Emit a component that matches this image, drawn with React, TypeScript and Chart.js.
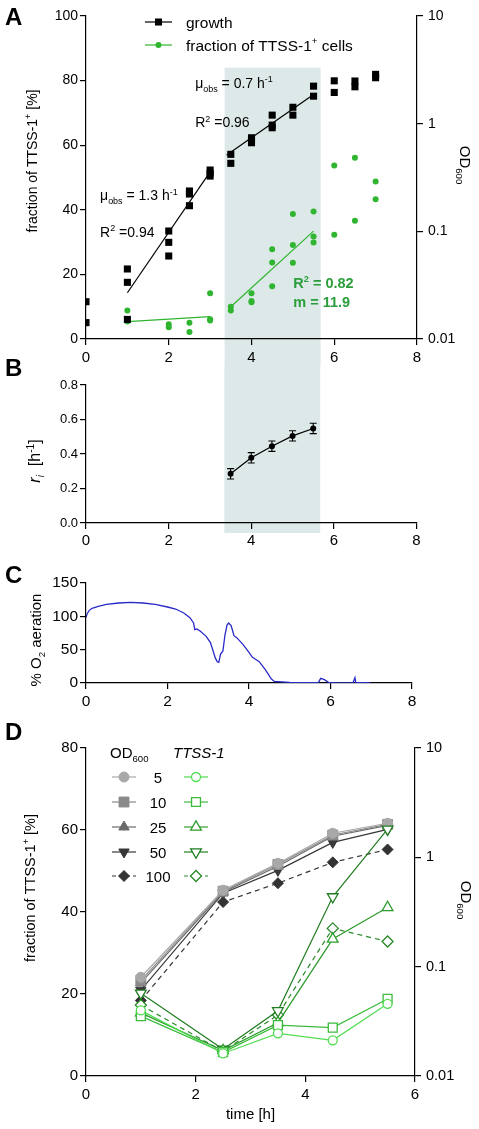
import React, { useEffect, useRef } from 'react';
import { Chart, registerables } from 'chart.js';
import { drawPoint } from 'chart.js/helpers';

Chart.register(...registerables);

const FONT = "'Liberation Sans', Arial, Helvetica, sans-serif";
Chart.defaults.font.family = FONT;
Chart.defaults.color = '#000';

// ---------------- Panel A data ----------------
const growthTimes = [0, 0, 1, 1, 1, 2, 2, 2, 2.5, 2.5, 2.5, 3, 3, 3, 3.5, 3.5, 4, 4, 4, 4.5, 4.5, 4.5, 5, 5, 5.5, 5.5, 6, 6, 6.5, 6.5, 7, 7];
const growthOD = [0.0222, 0.0142, 0.0447, 0.0336, 0.0152, 0.1007, 0.079, 0.059, 0.237, 0.222, 0.173, 0.371, 0.348, 0.326, 0.519, 0.428, 0.74, 0.7, 0.665, 1.2, 0.97, 0.916, 1.42, 1.2, 2.23, 1.8, 2.5, 1.95, 2.49, 2.2, 2.87, 2.67];
const fracTimes = [0, 1, 1, 2, 2, 2.5, 2.5, 3, 3, 3, 3.5, 3.5, 4, 4, 4, 4.5, 4.5, 4.5, 5, 5, 5, 5.5, 5.5, 5.5, 6, 6, 6.5, 6.5, 7, 7];
const fracPct = [4.8, 8.8, 5.4, 4.6, 3.6, 5.0, 2.2, 14.2, 6.1, 5.7, 10.0, 8.8, 14.2, 11.8, 11.4, 27.8, 23.7, 16.3, 38.7, 29.1, 23.6, 39.5, 31.7, 29.9, 53.7, 32.3, 56.1, 36.6, 48.8, 43.3];
const growthFitEarlyT = [1, 3];
const growthFitEarlyOD = [0.0269, 0.357];
const growthFitLateT = [3.4, 5.5];
const growthFitLateOD = [0.511, 1.87];
const fracFitEarlyT = [1, 3];
const fracFitEarlyPct = [5.4, 6.9];
const fracFitLateT = [3.5, 5.5];
const fracFitLatePct = [10.0, 33.4];
const timeTicksA = [0, 2, 4, 6, 8];
const pctTicksA = [0, 20, 40, 60, 80, 100];
const odTicks = [0.01, 0.1, 1, 10];
const shadeRange = [3.35, 5.67];
const shadeTopPct = 84;

// ---------------- Panel B data ----------------
const bTimes = [3.5, 4, 4.5, 5, 5.5];
const bRate = [0.285, 0.378, 0.445, 0.505, 0.548];
const bErr = [0.03, 0.03, 0.03, 0.03, 0.03];

// ---------------- Panel C data ----------------
const o2Times = [0, 0.03, 0.08, 0.15, 0.3, 0.5, 0.8, 1.1, 1.4, 1.7, 2.0, 2.2, 2.4, 2.55, 2.64, 2.67, 2.72, 2.8, 2.95, 3.05, 3.12, 3.17, 3.22, 3.26, 3.3, 3.36, 3.41, 3.46, 3.5, 3.56, 3.6, 3.63, 3.7, 3.85, 4.0, 4.08, 4.15, 4.25, 4.4, 4.55, 4.63, 4.7, 5.0, 5.4, 5.7, 5.76, 5.85, 5.95, 6.1, 6.55, 6.6, 6.62, 6.98];
const o2Pct = [98, 104, 109, 112, 115, 118, 120, 121, 120, 118, 114, 111, 105, 98, 90, 80, 81, 78, 70, 61, 48, 38, 32, 31, 43, 48, 72, 87, 90, 86, 78, 71, 68, 58, 46, 39, 36, 32, 20, 6, 2, 2, 1, 0.5, 0.5, 7, 5, 1, 0, 0, 8, 1, 0];
const o2Ticks = [0, 50, 100, 150];

// ---------------- Panel D data ----------------
const dTimes = [1, 2.5, 3.5, 4.5, 5.5];
const dLevels = ['5', '10', '25', '50', '100'];
const od5 = [0.08, 0.5, 0.88, 1.66, 2.05];
const od10 = [0.075, 0.49, 0.86, 1.6, 2.0];
const od25 = [0.071, 0.48, 0.83, 1.56, 1.96];
const od50 = [0.061, 0.47, 0.76, 1.37, 1.8];
const od100 = [0.049, 0.39, 0.58, 0.9, 1.18];
const ttss5 = [16.0, 5.5, 10.4, 8.7, 17.6];
const ttss10 = [14.6, 5.8, 12.4, 11.8, 18.8];
const ttss25 = [15.4, 6.2, 13.0, 33.4, 41.1];
const ttss50 = [20.2, 6.5, 15.9, 43.7, 60.2];
const ttss100 = [17.3, 6.0, 14.9, 36.0, 32.8];
const odSeries = [od5, od10, od25, od50, od100];
const ttssSeries = [ttss5, ttss10, ttss25, ttss50, ttss100];

// ---------------- styles ----------------
const W = 479;
const SHADE = 'rgb(221,232,233)';
const GREEN_A = '#2fb52f';
const GREEN_TXT = '#2b9e3c';
const BLUE = '#2a2ac8';
const grayColors = ['#a8a8a8', '#8a8a8a', '#6a6a6a', '#383838', '#333333'];
const greenColors = ['#50dc50', '#3cbb3c', '#2f9c2f', '#217d21', '#2a8a2a'];
const markerStyles = ['circle', 'rect', 'triangle', 'triangle', 'rectRot'];
const markerRot = [0, 0, 0, 180, 0];
const grayRadius = [5, 7, 6, 6, 5.5];
const greenRadius = [4.5, 6.3, 6.2, 6.2, 5.5];
const dashes: number[][] = [[], [], [], [], [5, 4]];

const A_TOP = 0, A_H = 366;
const B_TOP = 345, B_H = 205;
const C_TOP = 552, C_H = 170;
const D_TOP = 715, D_H = 414;

type Seg = { t: string; sub?: boolean; sup?: boolean; italic?: boolean; bold?: boolean };

function fontStr(size: number, s: Seg) {
  return `${s.italic ? 'italic ' : ''}${s.bold ? 'bold ' : ''}${size}px ${FONT}`;
}

function drawRich(ctx: CanvasRenderingContext2D, segs: Seg[], x: number, y: number, size: number, color: string, align: 'left' | 'center' | 'right' = 'left', rot = 0) {
  ctx.save();
  ctx.translate(x, y);
  ctx.rotate(rot);
  ctx.fillStyle = color;
  ctx.textBaseline = 'alphabetic';
  ctx.textAlign = 'left';
  const sizes = segs.map((s) => (s.sub || s.sup ? size * 0.64 : size));
  const widths = segs.map((s, i) => {
    ctx.font = fontStr(sizes[i], s);
    return ctx.measureText(s.t).width;
  });
  const total = widths.reduce((a, b) => a + b, 0);
  let cx = align === 'center' ? -total / 2 : align === 'right' ? -total : 0;
  segs.forEach((s, i) => {
    ctx.font = fontStr(sizes[i], s);
    const dy = s.sub ? size * 0.25 : s.sup ? -size * 0.4 : 0;
    ctx.fillText(s.t, cx, dy);
    cx += widths[i];
  });
  ctx.restore();
}

function marker(ctx: CanvasRenderingContext2D, style: string, radius: number, rotation: number, x: number, y: number, fill: string, stroke: string, lw: number) {
  ctx.save();
  ctx.fillStyle = fill;
  ctx.strokeStyle = stroke;
  ctx.lineWidth = lw;
  ctx.setLineDash([]);
  drawPoint(ctx, { pointStyle: style as any, rotation, radius, borderWidth: lw }, x, y);
  ctx.restore();
}

function segLine(ctx: CanvasRenderingContext2D, x0: number, x1: number, y: number, color: string, dash: number[] = []) {
  ctx.save();
  ctx.strokeStyle = color;
  ctx.lineWidth = 1.2;
  ctx.setLineDash(dash);
  ctx.beginPath();
  ctx.moveTo(x0, y);
  ctx.lineTo(x1, y);
  ctx.stroke();
  ctx.restore();
}

function letter(ctx: CanvasRenderingContext2D, t: string, baseline: number) {
  ctx.save();
  ctx.font = `bold 24px ${FONT}`;
  ctx.fillStyle = '#000';
  ctx.textBaseline = 'alphabetic';
  ctx.textAlign = 'left';
  ctx.fillText(t, 5, baseline);
  ctx.restore();
}

const pts = (xs: number[], ys: number[]) => xs.map((x, i) => ({ x, y: ys[i] }));

function grid() {
  return { drawOnChartArea: false, drawTicks: true, tickLength: 6, color: '#000', lineWidth: 1.2 };
}
function border() {
  return { display: true, color: '#000', width: 1.2 };
}
function fixedTicks(values: number[]) {
  return (s: any) => {
    s.ticks = values.map((v) => ({ value: v }));
  };
}

const annotationsA: { x: number; y: number; segs: Seg[]; color: string }[] = [
  { x: 2.64, y: 77.7, segs: [{ t: 'μ' }, { t: 'obs', sub: true }, { t: ' = 0.7 h' }, { t: '-1', sup: true }], color: '#000' },
  { x: 2.64, y: 65.6, segs: [{ t: 'R' }, { t: '2', sup: true }, { t: ' =0.96' }], color: '#000' },
  { x: 0.34, y: 43.0, segs: [{ t: 'μ' }, { t: 'obs', sub: true }, { t: ' = 1.3 h' }, { t: '-1', sup: true }], color: '#000' },
  { x: 0.34, y: 31.7, segs: [{ t: 'R' }, { t: '2', sup: true }, { t: ' =0.94' }], color: '#000' },
  { x: 5.01, y: 15.8, segs: [{ t: 'R', bold: true }, { t: '2', sup: true, bold: true }, { t: ' = 0.82', bold: true }], color: GREEN_TXT },
  { x: 5.01, y: 10.0, segs: [{ t: 'm = 11.9', bold: true }], color: GREEN_TXT },
];

const fracTitle: Seg[] = [{ t: 'fraction of TTSS-1' }, { t: '+', sup: true }, { t: ' [%]' }];
const odTitle: Seg[] = [{ t: 'OD' }, { t: '600', sub: true }];

function shadePlugin(getTop: (c: any) => number, getBottom: (c: any) => number) {
  return {
    id: 'shade',
    beforeDraw(chart: any) {
      const xs = chart.scales.x;
      const ctx = chart.ctx;
      const x0 = xs.getPixelForValue(shadeRange[0]);
      const x1 = xs.getPixelForValue(shadeRange[1]);
      const t = getTop(chart);
      const b = getBottom(chart);
      ctx.save();
      ctx.fillStyle = SHADE;
      ctx.fillRect(x0, t, x1 - x0, b - t);
      ctx.restore();
    },
  };
}

function configA(): any {
  return {
    type: 'scatter',
    data: {
      datasets: [
        { data: pts(growthTimes, growthOD), yAxisID: 'yOD', pointStyle: 'rect', pointRadius: 5, backgroundColor: '#000', borderColor: '#000', borderWidth: 0, showLine: false, order: 1 },
        { data: pts(fracTimes, fracPct), yAxisID: 'y', pointStyle: 'circle', pointRadius: 3, backgroundColor: GREEN_A, borderColor: GREEN_A, borderWidth: 0, showLine: false, order: 2 },
        { data: pts(growthFitEarlyT, growthFitEarlyOD), yAxisID: 'yOD', showLine: true, borderColor: '#000', borderWidth: 1.2, pointRadius: 0, order: 3 },
        { data: pts(growthFitLateT, growthFitLateOD), yAxisID: 'yOD', showLine: true, borderColor: '#000', borderWidth: 1.2, pointRadius: 0, order: 3 },
        { data: pts(fracFitEarlyT, fracFitEarlyPct), yAxisID: 'y', showLine: true, borderColor: GREEN_A, borderWidth: 1.2, pointRadius: 0, order: 3 },
        { data: pts(fracFitLateT, fracFitLatePct), yAxisID: 'y', showLine: true, borderColor: GREEN_A, borderWidth: 1.2, pointRadius: 0, order: 3 },
      ],
    },
    options: {
      animation: false,
      responsive: false,
      events: [],
      layout: { padding: { top: 16, right: 0, left: 0, bottom: 0 } },
      plugins: { legend: { display: false }, tooltip: { enabled: false } },
      scales: {
        x: {
          type: 'linear', min: 0, max: 8, afterBuildTicks: fixedTicks(timeTicksA),
          grid: grid(), border: border(),
          ticks: { font: { size: 15 }, padding: 4, color: '#000' },
          afterFit: (s: any) => { s.height = A_H - 339; },
        },
        y: {
          type: 'linear', position: 'left', min: 0, max: 100, afterBuildTicks: fixedTicks(pctTicksA),
          grid: grid(), border: border(),
          ticks: { font: { size: 14 }, padding: 2, color: '#000' },
          afterFit: (s: any) => { s.width = 86; },
        },
        yOD: {
          type: 'logarithmic', position: 'right', min: 0.01, max: 10, afterBuildTicks: fixedTicks(odTicks),
          grid: grid(), border: border(),
          ticks: { font: { size: 14 }, padding: 5, color: '#000', callback: (v: any) => String(v) },
          afterFit: (s: any) => { s.width = 62; },
        },
      },
    },
    plugins: [
      shadePlugin((c) => c.scales.y.getPixelForValue(shadeTopPct), (c) => c.height),
      {
        id: 'decorA',
        afterDraw(chart: any) {
          const ctx = chart.ctx as CanvasRenderingContext2D;
          letter(ctx, 'A', 25);
          // legend
          segLine(ctx, 145, 172, 22, '#000');
          marker(ctx, 'rect', 5, 0, 158.5, 22, '#000', '#000', 0);
          segLine(ctx, 145, 172, 45, GREEN_A);
          marker(ctx, 'circle', 3, 0, 158.5, 45, GREEN_A, GREEN_A, 0);
          drawRich(ctx, [{ t: 'growth' }], 186, 27.5, 15.5, '#000');
          drawRich(ctx, [{ t: 'fraction of TTSS-1' }, { t: '+', sup: true }, { t: ' cells' }], 186, 50.5, 15.5, '#000');
          // annotations
          const xs = chart.scales.x, ys = chart.scales.y;
          annotationsA.forEach((a) => {
            const bold = a.segs.some((s) => s.bold);
            drawRich(ctx, a.segs, xs.getPixelForValue(a.x), ys.getPixelForValue(a.y), bold ? 14.5 : 14, a.color);
          });
          // axis titles
          drawRich(ctx, fracTitle, 37, 161, 14, '#000', 'center', -Math.PI / 2);
          drawRich(ctx, odTitle, 460, 165, 15, '#000', 'center', Math.PI / 2);
        },
      },
    ],
  };
}

function configB(): any {
  return {
    type: 'scatter',
    data: {
      datasets: [
        { data: pts(bTimes, bRate), showLine: true, borderColor: '#000', borderWidth: 1.2, pointRadius: 3, pointBackgroundColor: '#000', pointBorderWidth: 0 },
      ],
    },
    options: {
      animation: false,
      responsive: false,
      events: [],
      layout: { padding: { top: 385 - B_TOP, right: W - 416.5, left: 0, bottom: 0 } },
      plugins: { legend: { display: false }, tooltip: { enabled: false } },
      scales: {
        x: {
          type: 'linear', min: 0, max: 8, afterBuildTicks: fixedTicks(timeTicksA),
          grid: grid(), border: border(),
          ticks: { font: { size: 15 }, padding: 3, color: '#000' },
          afterFit: (s: any) => { s.height = B_H - (523 - B_TOP); },
        },
        y: {
          type: 'linear', position: 'left', min: 0, max: 0.8,
          afterBuildTicks: fixedTicks([0, 0.2, 0.4, 0.6, 0.8]),
          grid: grid(), border: border(),
          ticks: { font: { size: 13 }, padding: 2, color: '#000', callback: (v: any) => Number(v).toFixed(1) },
          afterFit: (s: any) => { s.width = 86; },
        },
      },
    },
    plugins: [
      shadePlugin(() => A_H - B_TOP, (c) => c.chartArea.bottom + 10),
      {
        id: 'errB',
        afterDatasetsDraw(chart: any) {
          const ctx = chart.ctx as CanvasRenderingContext2D;
          const xs = chart.scales.x, ys = chart.scales.y;
          ctx.save();
          ctx.strokeStyle = '#000';
          ctx.lineWidth = 1.1;
          bTimes.forEach((t, i) => {
            const x = xs.getPixelForValue(t);
            const y0 = ys.getPixelForValue(bRate[i] - bErr[i]);
            const y1 = ys.getPixelForValue(bRate[i] + bErr[i]);
            ctx.beginPath();
            ctx.moveTo(x, y0); ctx.lineTo(x, y1);
            ctx.moveTo(x - 3.5, y0); ctx.lineTo(x + 3.5, y0);
            ctx.moveTo(x - 3.5, y1); ctx.lineTo(x + 3.5, y1);
            ctx.stroke();
          });
          ctx.restore();
        },
        afterDraw(chart: any) {
          const ctx = chart.ctx as CanvasRenderingContext2D;
          letter(ctx, 'B', 376 - B_TOP);
          drawRich(ctx, [{ t: 'r', italic: true }, { t: 'i', italic: true, sub: true }, { t: '  [h' }, { t: '-1', sup: true }, { t: ']' }], 40, 461 - B_TOP, 16, '#000', 'center', -Math.PI / 2);
        },
      },
    ],
  };
}

function configC(): any {
  return {
    type: 'scatter',
    data: {
      datasets: [
        { data: pts(o2Times, o2Pct), showLine: true, borderColor: BLUE, borderWidth: 1.3, pointRadius: 0, tension: 0 },
      ],
    },
    options: {
      animation: false,
      responsive: false,
      events: [],
      layout: { padding: { top: 583 - C_TOP, right: W - 412, left: 0, bottom: 0 } },
      plugins: { legend: { display: false }, tooltip: { enabled: false } },
      scales: {
        x: {
          type: 'linear', min: 0, max: 8, afterBuildTicks: fixedTicks(timeTicksA),
          grid: grid(), border: border(),
          ticks: { font: { size: 15.5 }, padding: 3, color: '#000' },
          afterFit: (s: any) => { s.height = C_H - (683 - C_TOP); },
        },
        y: {
          type: 'linear', position: 'left', min: 0, max: 150, afterBuildTicks: fixedTicks(o2Ticks),
          grid: grid(), border: border(),
          ticks: { font: { size: 15.5 }, padding: 2, color: '#000' },
          afterFit: (s: any) => { s.width = 86; },
        },
      },
    },
    plugins: [
      {
        id: 'decorC',
        afterDraw(chart: any) {
          const ctx = chart.ctx as CanvasRenderingContext2D;
          letter(ctx, 'C', 583 - C_TOP);
          drawRich(ctx, [{ t: '% O' }, { t: '2', sub: true }, { t: ' aeration' }], 41, 640 - C_TOP, 15, '#000', 'center', -Math.PI / 2);
        },
      },
    ],
  };
}

function configD(): any {
  const datasets: any[] = [];
  ttssSeries.forEach((vals, i) => {
    datasets.push({
      data: pts(dTimes, vals), yAxisID: 'y', showLine: true,
      borderColor: greenColors[i], borderWidth: 1.2, borderDash: dashes[i],
      pointStyle: markerStyles[i], pointRotation: markerRot[i], pointRadius: greenRadius[i],
      pointBackgroundColor: '#fff', pointBorderColor: greenColors[i], pointBorderWidth: 1.3,
      order: i,
    });
  });
  odSeries.forEach((vals, i) => {
    datasets.push({
      data: pts(dTimes, vals), yAxisID: 'yOD', showLine: true,
      borderColor: grayColors[i], borderWidth: 1.2, borderDash: dashes[i],
      pointStyle: markerStyles[i], pointRotation: markerRot[i], pointRadius: grayRadius[i],
      pointBackgroundColor: grayColors[i], pointBorderColor: grayColors[i], pointBorderWidth: 1,
      order: 5 + i,
    });
  });
  return {
    type: 'scatter',
    data: { datasets },
    options: {
      animation: false,
      responsive: false,
      events: [],
      layout: { padding: { top: 748 - D_TOP, right: 0, left: 0, bottom: 0 } },
      plugins: { legend: { display: false }, tooltip: { enabled: false } },
      scales: {
        x: {
          type: 'linear', min: 0, max: 6, afterBuildTicks: fixedTicks([0, 2, 4, 6]),
          grid: grid(), border: border(),
          ticks: { font: { size: 15 }, padding: 4, color: '#000' },
          afterFit: (s: any) => { s.height = D_H - (1076 - D_TOP); },
        },
        y: {
          type: 'linear', position: 'left', min: 0, max: 80, afterBuildTicks: fixedTicks([0, 20, 40, 60, 80]),
          grid: grid(), border: border(),
          ticks: { font: { size: 15 }, padding: 2, color: '#000' },
          afterFit: (s: any) => { s.width = 86; },
        },
        yOD: {
          type: 'logarithmic', position: 'right', min: 0.01, max: 10, afterBuildTicks: fixedTicks(odTicks),
          grid: grid(), border: border(),
          ticks: { font: { size: 14.5 }, padding: 5, color: '#000', callback: (v: any) => String(v) },
          afterFit: (s: any) => { s.width = W - 415; },
        },
      },
    },
    plugins: [
      {
        id: 'decorD',
        afterDraw(chart: any) {
          const ctx = chart.ctx as CanvasRenderingContext2D;
          letter(ctx, 'D', 740 - D_TOP);
          // legend
          drawRich(ctx, [{ t: 'OD' }, { t: '600', sub: true }], 110, 758 - D_TOP, 15, '#000');
          drawRich(ctx, [{ t: 'TTSS-1', italic: true }], 173, 758 - D_TOP, 15, '#000');
          const rows = [777, 802, 827, 852, 876];
          dLevels.forEach((lv, i) => {
            const y = rows[i] - D_TOP;
            segLine(ctx, 112, 136, y, grayColors[i], dashes[i].length ? [4, 3] : []);
            marker(ctx, markerStyles[i], grayRadius[i], markerRot[i], 124, y, grayColors[i], grayColors[i], 1);
            drawRich(ctx, [{ t: lv }], 158, y + 5.5, 15, '#000', 'center');
            segLine(ctx, 184, 208, y, greenColors[i], dashes[i].length ? [4, 3] : []);
            marker(ctx, markerStyles[i], greenRadius[i], markerRot[i], 196, y, '#fff', greenColors[i], 1.3);
          });
          // titles
          drawRich(ctx, fracTitle, 35, 888 - D_TOP, 14.5, '#000', 'center', -Math.PI / 2);
          drawRich(ctx, odTitle, 461, 900 - D_TOP, 15, '#000', 'center', Math.PI / 2);
          drawRich(ctx, [{ t: 'time [h]' }], chart.scales.x.getPixelForValue(3), 1119 - D_TOP, 15, '#000', 'center');
        },
      },
    ],
  };
}

export default function App() {
  const aRef = useRef<HTMLCanvasElement>(null);
  const bRef = useRef<HTMLCanvasElement>(null);
  const cRef = useRef<HTMLCanvasElement>(null);
  const dRef = useRef<HTMLCanvasElement>(null);

  useEffect(() => {
    const charts: Chart[] = [];
    if (aRef.current) charts.push(new Chart(aRef.current, configA()));
    if (bRef.current) charts.push(new Chart(bRef.current, configB()));
    if (cRef.current) charts.push(new Chart(cRef.current, configC()));
    if (dRef.current) charts.push(new Chart(dRef.current, configD()));
    return () => charts.forEach((c) => c.destroy());
  }, []);

  const cs = (top: number, h: number): React.CSSProperties => ({ position: 'absolute', left: 0, top, width: W, height: h, display: 'block' });

  return (
    <div style={{ position: 'absolute', left: 0, top: 0, width: W, height: 1129, background: '#fff', overflow: 'hidden' }}>
      <canvas ref={aRef} width={W} height={A_H} style={cs(A_TOP, A_H)} />
      <canvas ref={bRef} width={W} height={B_H} style={cs(B_TOP, B_H)} />
      <canvas ref={cRef} width={W} height={C_H} style={cs(C_TOP, C_H)} />
      <canvas ref={dRef} width={W} height={D_H} style={cs(D_TOP, D_H)} />
    </div>
  );
}
